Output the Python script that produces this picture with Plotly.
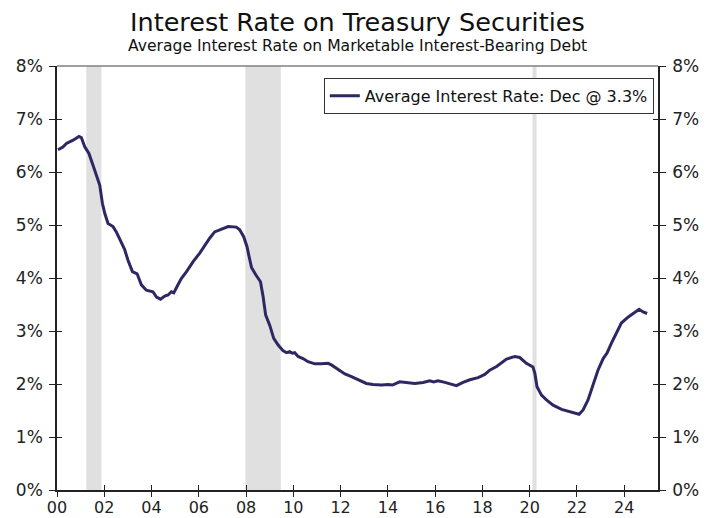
import plotly.graph_objects as go

# Decimal years since 2000 and average interest rate (%)
years = [0.04, 0.25, 0.40, 0.68, 0.93, 1.03, 1.17, 1.35, 1.52, 1.67, 1.81, 1.92, 2.02, 2.16, 2.37,
         2.51, 2.73, 2.86, 3.00, 3.19, 3.39, 3.57, 3.78, 4.06, 4.21, 4.38, 4.56, 4.70, 4.84, 4.94,
         5.08, 5.26, 5.48, 5.76, 6.04, 6.25, 6.46, 6.67, 6.96, 7.24, 7.59, 7.73, 7.90, 8.04, 8.13,
         8.23, 8.41, 8.61, 8.72, 8.83, 9.00, 9.17, 9.35, 9.56, 9.71, 9.85, 9.96, 10.06, 10.20,
         10.41, 10.62, 10.91, 11.19, 11.47, 11.61, 11.89, 12.18, 12.46, 12.74, 13.09, 13.37,
         13.73, 14.01, 14.19, 14.50, 14.79, 15.14, 15.49, 15.77, 15.94, 16.12, 16.41, 16.69,
         16.90, 17.18, 17.47, 17.82, 18.10, 18.31, 18.60, 19.02, 19.37, 19.58, 19.86, 20.14,
         20.22, 20.31, 20.50, 20.71, 20.99, 21.35, 21.70, 21.91, 22.09, 22.26, 22.47, 22.68,
         22.89, 23.11, 23.28, 23.46, 23.67, 23.88, 24.16, 24.38, 24.63, 24.80, 24.97]
rates = [6.42, 6.47, 6.54, 6.60, 6.67, 6.65, 6.48, 6.35, 6.13, 5.91, 5.75, 5.41, 5.22, 5.03, 4.97,
         4.87, 4.65, 4.54, 4.34, 4.12, 4.08, 3.87, 3.77, 3.74, 3.64, 3.60, 3.66, 3.68, 3.74, 3.72,
         3.84, 3.99, 4.12, 4.31, 4.47, 4.62, 4.75, 4.87, 4.92, 4.97, 4.96, 4.91, 4.78, 4.59, 4.40,
         4.20, 4.06, 3.93, 3.65, 3.30, 3.11, 2.86, 2.74, 2.63, 2.59, 2.61, 2.58, 2.59, 2.52,
         2.48, 2.42, 2.38, 2.38, 2.39, 2.36, 2.28, 2.19, 2.14, 2.08, 2.01, 1.99,
         1.98, 1.99, 1.98, 2.04, 2.03, 2.01, 2.03, 2.06, 2.04, 2.06, 2.03, 2.00,
         1.97, 2.03, 2.08, 2.12, 2.18, 2.26, 2.33, 2.47, 2.52, 2.50, 2.39, 2.32,
         2.20, 1.95, 1.79, 1.70, 1.60, 1.52, 1.48, 1.46, 1.43, 1.51, 1.70, 1.98,
         2.26, 2.48, 2.59, 2.77, 2.96, 3.15, 3.26, 3.33, 3.41, 3.36, 3.33]

recession_starts = [1.24, 7.97, 20.12]
recession_ends = [1.88, 9.47, 20.29]

x_tickvals = list(range(0, 25, 2))
x_ticktext = ["00", "02", "04", "06", "08", "10", "12", "14", "16", "18", "20", "22", "24"]
y_tickvals = list(range(0, 9))
y_ticktext = [f"{v}%" for v in y_tickvals]

title_text = "Interest Rate on Treasury Securities"
subtitle_text = "Average Interest Rate on Marketable Interest-Bearing Debt"
series_name = "Average Interest Rate: Dec @ 3.3%"
line_color = "#2D2762"
font_family = "DejaVu Sans"
x_range = [0, 25.43]
y_range = [0, 8]

fig = go.Figure()
fig.add_trace(go.Scatter(x=years, y=rates, mode="lines", name=series_name,
                         line=dict(color=line_color, width=3), xaxis="x", yaxis="y"))
# invisible traces to activate overlay axes (crossing ticks, right axis)
for ya in ["y2", "y3", "y4"]:
    fig.add_trace(go.Scatter(x=years, y=rates, mode="lines", showlegend=False, hoverinfo="skip",
                             line=dict(color="rgba(0,0,0,0)", width=0), xaxis="x2", yaxis=ya))

for s, e in zip(recession_starts, recession_ends):
    fig.add_vrect(x0=s, x1=e, fillcolor="#E0E0E0", line_width=0, layer="below")

# top border of the plot frame
fig.add_shape(type="line", xref="paper", yref="paper", x0=0, x1=1, y0=1, y1=1,
              line=dict(color="#808080", width=1.5))

fig.add_annotation(text=title_text, xref="paper", yref="paper", x=0.5, y=1.104,
                   xanchor="center", yanchor="middle", showarrow=False,
                   font=dict(family=font_family, size=25.5, color="#111111"))
fig.add_annotation(text=subtitle_text, xref="paper", yref="paper", x=0.5, y=1.047,
                   xanchor="center", yanchor="middle", showarrow=False,
                   font=dict(family=font_family, size=15.6, color="#111111"))

xtickfont = dict(family=font_family, size=16, color="#222222")
ytickfont = dict(family=font_family, size=17, color="#222222")
common_y = dict(range=y_range, tickvals=y_tickvals, fixedrange=True, showgrid=False,
                zeroline=False, automargin=False)

fig.update_layout(
    width=715, height=518,
    margin=dict(l=57, r=57, t=66, b=28, autoexpand=False),
    paper_bgcolor="white", plot_bgcolor="white",
    font=dict(family=font_family, color="#111111"),
    showlegend=True,
    legend=dict(x=0.993, xanchor="right", y=0.972, yanchor="top",
                bgcolor="white", bordercolor="#333333", borderwidth=1,
                font=dict(family=font_family, size=16, color="#111111"),
                itemwidth=30, tracegroupgap=0),
    xaxis=dict(range=x_range, tickvals=x_tickvals, ticktext=x_ticktext, ticks="outside",
               ticklen=5, tickcolor="#222222", showline=True, linecolor="#222222", linewidth=1.5,
               showgrid=False, zeroline=False, tickfont=xtickfont, fixedrange=True,
               automargin=False, ticklabelstandoff=-3),
    xaxis2=dict(range=x_range, tickvals=x_tickvals, overlaying="x", side="bottom", anchor="y",
                ticks="inside", ticklen=5, tickcolor="#222222", showticklabels=False,
                showline=False, showgrid=False, zeroline=False, fixedrange=True, automargin=False),
    yaxis=dict(ticktext=y_ticktext, ticks="outside", ticklen=6, tickcolor="#222222",
               showline=True, linecolor="#222222", linewidth=1.5, tickfont=ytickfont,
               ticklabelstandoff=3, **common_y),
    yaxis2=dict(ticktext=y_ticktext, overlaying="y", side="right", anchor="x2", ticks="outside",
                ticklen=6, tickcolor="#222222", showline=True, linecolor="#222222", linewidth=1.5,
                tickfont=ytickfont, ticklabelstandoff=3, **common_y),
    yaxis3=dict(overlaying="y", side="left", anchor="x2", ticks="inside", ticklen=5,
                tickcolor="#222222", showticklabels=False, showline=False, **common_y),
    yaxis4=dict(overlaying="y", side="right", anchor="x2", ticks="inside", ticklen=5,
                tickcolor="#222222", showticklabels=False, showline=False, **common_y),
)

fig.write_html("out.html", config={"displayModeBar": False},
               post_script="document.body.style.margin='0';document.body.style.padding='0';")
